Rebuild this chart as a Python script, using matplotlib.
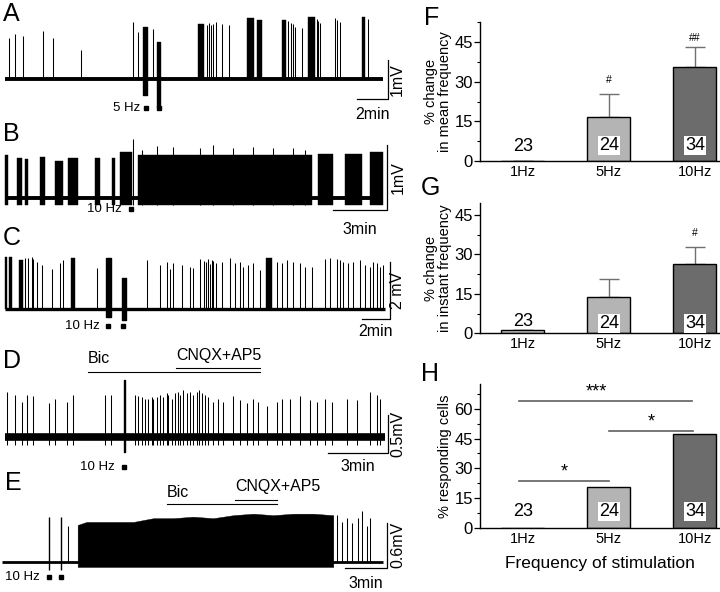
import matplotlib
matplotlib.use('Agg')
import matplotlib.pyplot as plt
import numpy as np

plt.rcParams['font.family'] = ['Liberation Sans', 'DejaVu Sans']

# ---------------- bar chart data (F, G, H) ----------------
freqs = ['1Hz', '5Hz', '10Hz']
n_cells = ['23', '24', '34']
mean_change = [0.0, 16.8, 35.7]
mean_err = [0.0, 8.5, 7.6]
inst_change = [1.2, 13.7, 26.3]
inst_err = [0.0, 6.8, 6.6]
responding = [0.0, 20.7, 47.4]
bar_colors = ['#c8c8c8', '#b4b4b4', '#6c6c6c']

# ---------------- traces: time in min, amplitude in mV ----------------
# A : 5 Hz
A_spk_t = [0.26, 0.65, 1.14, 2.43, 3.08, 4.90, 8.26, 8.56, 9.55,
           13.0, 13.15, 13.3, 13.45, 13.61, 13.98, 14.47,
           18.28, 18.43, 18.6, 18.7, 19.14, 20.11, 20.2, 20.32,
           21.29, 21.44, 21.61, 23.44]
A_spk_a = [1.06, 1.16, 1.11, 1.24, 1.06, 0.75, 1.47, 1.21, 1.29,
           1.40, 1.45, 1.38, 1.42, 1.48, 1.43, 1.40,
           1.50, 1.45, 1.42, 1.35, 1.31, 1.55, 1.50, 1.45,
           1.56, 1.52, 1.48, 1.55]
A_bursts = [(12.43, 12.85, 1.43), (15.59, 16.07, 1.56), (16.24, 16.56, 1.52),
            (17.85, 18.13, 1.52), (19.57, 20.0, 1.59), (23.01, 23.23, 1.59)]
A_stims = [(8.92, 9.14, 1.34, -0.40), (9.81, 10.0, 0.96, -0.71)]
A_stim_t = [9.08, 9.94]

# B : 10 Hz
B_spk_t = [7.11, 7.59, 8.43, 9.35, 10.83, 11.57, 12.69, 13.8, 14.91, 16.02, 16.67]
B_spk_a = [0.91, 0.74, 0.80, 0.79, 0.77, 0.82, 0.77, 0.79, 0.77, 0.78, 0.74]
B_bursts = [(0.0, 0.17, 0.66), (0.67, 0.94, 0.62), (1.11, 1.28, 0.60), (1.94, 2.22, 0.64),
            (2.78, 3.22, 0.58), (3.5, 4.06, 0.62), (5.0, 5.28, 0.62), (5.94, 6.11, 0.62),
            (6.39, 7.06, 0.72), (7.39, 17.06, 0.67), (17.39, 18.22, 0.68),
            (18.89, 19.83, 0.68), (20.28, 21.0, 0.72)]
B_stim_t = [6.98]

# C : 10 Hz
C_spk_t = [1.43, 1.66, 1.91, 2.02, 2.26, 2.62, 3.33, 3.93, 4.12, 6.55,
           10.12, 11.07, 11.55, 11.79, 12.02, 12.62, 13.21, 13.45,
           13.93, 14.21, 14.36, 14.52, 14.64, 14.76, 14.88, 15.07,
           15.48, 16.07, 16.43, 16.79, 17.02, 17.38, 17.74, 18.21,
           19.4, 19.76, 20.12, 20.6, 21.07, 21.43, 21.9,
           22.86, 23.21, 23.69, 23.93, 24.17, 24.52, 24.88, 25.36, 25.71,
           26.07, 26.31, 26.55, 26.79, 27.02]
C_spk_a = [1.79, 1.79, 1.85, 1.75, 1.67, 1.55, 1.40, 1.61, 1.73, 1.44,
           1.73, 1.55, 1.67, 1.40, 1.61, 1.55, 1.50, 1.44,
           1.75, 1.70, 1.65, 1.75, 1.60, 1.72, 1.68, 1.62,
           1.67, 1.79, 1.61, 1.67, 1.50, 1.55, 1.61, 1.38,
           1.67, 1.61, 1.73, 1.67, 1.61, 1.50, 1.50,
           1.75, 1.79, 1.75, 1.73, 1.67, 1.61, 1.67, 1.73, 1.55,
           1.50, 1.67, 1.61, 1.50, 1.55]
C_bursts = [(0.0, 0.14, 1.82), (0.32, 0.48, 1.82), (1.02, 1.26, 1.73),
            (4.69, 5.0, 1.79), (18.64, 19.05, 1.81)]
C_stims = [(7.21, 7.55, 1.79, -0.26), (8.33, 8.62, 1.09, -0.38)]
C_stim_t = [7.36, 8.43]

# D : 10 Hz + Bic / CNQX+AP5
D_spk_t = [0.08, 0.5, 0.83, 1.12, 1.42, 2.22, 2.5, 3.08, 3.42, 5.0, 5.3, 6.5, 6.63,
           6.83, 7.0, 7.17, 7.33, 7.42, 7.58, 7.75, 7.92, 8.08, 8.17, 8.33, 8.5,
           8.67, 8.75, 8.92, 9.08, 9.25, 9.42, 9.58, 9.72, 9.83, 10.0, 10.17, 10.42,
           10.67, 10.92, 11.42, 11.75, 12.08, 12.42, 12.67, 13.08, 13.58, 13.83,
           14.25, 14.75, 15.25, 15.58, 16.0, 16.33, 17.08, 17.58, 18.25, 18.58, 18.75]
D_spk_a = [0.60, 0.56, 0.47, 0.56, 0.54, 0.45, 0.51, 0.47, 0.56, 0.56, 0.56, 0.56, 0.54,
           0.53, 0.51, 0.51, 0.53, 0.51, 0.53, 0.56, 0.53, 0.58, 0.56, 0.51, 0.58,
           0.60, 0.56, 0.62, 0.58, 0.60, 0.56, 0.60, 0.62, 0.58, 0.56, 0.53, 0.47,
           0.51, 0.47, 0.54, 0.49, 0.45, 0.51, 0.47, 0.41, 0.47, 0.51,
           0.51, 0.54, 0.49, 0.47, 0.51, 0.47, 0.51, 0.49, 0.60, 0.56, 0.51]
D_stims = [(5.95, 5.99, 0.76, -0.19)]
D_stim_t = [5.97]
D_bic = (4.15, 12.75)
D_cnqx = (8.55, 12.75)

# E : 10 Hz + Bic / CNQX+AP5
E_env_t = [5.19, 5.83, 6.79, 7.98, 9.17, 10.6, 12.02, 13.45, 14.88, 16.31,
           17.74, 19.17, 20.6, 22.02, 23.45]
E_env_a = [0.49, 0.53, 0.53, 0.53, 0.53, 0.58, 0.58, 0.60, 0.58, 0.62,
           0.64, 0.62, 0.64, 0.64, 0.62]
E_spk_t = [4.52, 23.69, 24.05, 24.4, 24.76, 25.24, 25.48, 25.83, 26.07]
E_spk_a = [0.47, 0.62, 0.53, 0.58, 0.51, 0.58, 0.67, 0.47, 0.58]
E_stims = [(3.13, 3.15, 0.60, -0.11), (3.99, 4.01, 0.60, -0.11)]
E_stim_t = [3.14, 4.0]
E_bic = (11.57, 19.43)
E_cnqx = (16.43, 19.43)

W, H = 720, 592
fig = plt.figure(figsize=(7.2, 5.92), dpi=100)


def trace_ax(top, bot, base, px_mv, px_min):
    ax = fig.add_axes([0, 1 - bot / H, 400 / W, (bot - top) / H])
    ax.set_xlim(-5 / px_min, 395 / px_min)
    ax.set_ylim(-(bot - base) / px_mv, (base - top) / px_mv)
    ax.axis('off')
    return ax


def draw_trace(ax, t_end, base_lw, spk_t, spk_a, bursts=(), stims=(), floor=0.0, t_start=0.0):
    ax.plot([t_start, t_end], [0, 0], color='k', lw=base_lw, solid_capstyle='butt')
    ax.vlines(spk_t, floor, spk_a, color='k', lw=0.75)
    for t0, t1, a in bursts:
        ax.fill_between([t0, t1], floor, a, color='k', lw=0.3)
    for t0, t1, a, b in stims:
        ax.fill_between([t0, t1], b, a, facecolor='k', edgecolor='k', lw=1.0)


def scalebar(ax, t_right, y_bot, dt, dv, tlab, vlab, tlab_y, vlab_t):
    ax.plot([t_right - dt, t_right, t_right], [y_bot, y_bot, y_bot + dv],
            color='k', lw=0.9, clip_on=False)
    ax.text(t_right - dt / 2, tlab_y, tlab, ha='center', va='top', fontsize=11.5)
    ax.text(vlab_t, y_bot + dv / 2, vlab, ha='center', va='center', rotation=90, fontsize=11.5)


def stim_mark(ax, ts, y, label, t_lab):
    ax.plot(ts, [y] * len(ts), 's', ms=3.3, color='k', clip_on=False)
    ax.text(t_lab, y, label, ha='right', va='center', fontsize=9.5)


def drug_bars(ax, bic, cnqx, y_bic, y_cnqx, yt_bic, yt_cnqx):
    ax.plot(bic, [y_bic, y_bic], color='k', lw=0.8)
    ax.plot(cnqx, [y_cnqx, y_cnqx], color='k', lw=0.8)
    ax.text(bic[0], yt_bic, 'Bic', ha='left', va='center', fontsize=11.5)
    ax.text(cnqx[0], yt_cnqx, 'CNQX+AP5', ha='left', va='center', fontsize=11.5)


# A
axA = trace_ax(0, 122, 79.3, 39, 15.5)
draw_trace(axA, 24.39, 2.8, A_spk_t, A_spk_a, A_bursts, A_stims)
scalebar(axA, 24.71, -0.5, 2, 1, '2min', '1mV', -0.70, 25.3)
stim_mark(axA, A_stim_t, -0.73, '5 Hz', 8.71)

# B
axB = trace_ax(110, 235, 198.3, 65, 18)
draw_trace(axB, 21.0, 2.8, B_spk_t, B_spk_a, B_bursts, floor=-0.1)
scalebar(axB, 21.22, -0.18, 3, 1, '3min', '1mV', -0.36, 21.83)
stim_mark(axB, B_stim_t, -0.165, '10 Hz', 6.5)

# C
axC = trace_ax(220, 345, 309.3, 28.5, 14)
draw_trace(axC, 27.14, 2.4, C_spk_t, C_spk_a, C_bursts, C_stims)
scalebar(axC, 27.5, -0.34, 2, 2, '2min', '2 mV', -0.50, 28.07)
stim_mark(axC, C_stim_t, -0.59, '10 Hz', 6.79)

# D
axD = trace_ax(335, 480, 437.3, 76, 20)
draw_trace(axD, 19.0, 5.5, D_spk_t, D_spk_a, (), D_stims, floor=-0.1)
scalebar(axD, 19.15, -0.21, 3, 0.5, '3min', '0.5mV', -0.28, 19.65)
stim_mark(axD, D_stim_t, -0.39, '10 Hz', 5.5)
drug_bars(axD, D_bic, D_cnqx, 0.86, 0.91, 1.04, 1.07)

# E
axE = trace_ax(470, 592, 561.7, 75, 14)
draw_trace(axE, 27.0, 2.0, E_spk_t, E_spk_a, (), E_stims, t_start=-0.21)
axE.fill_between(E_env_t, -0.07, E_env_a, color='k', lw=0.3)
scalebar(axE, 27.29, -0.08, 3, 0.6, '3min', '0.6mV', -0.19, 28.07)
stim_mark(axE, E_stim_t, -0.2, '10 Hz', 2.5)
drug_bars(axE, E_bic, E_cnqx, 0.77, 0.82, 0.92, 1.0)

for lab, x, y in [('A', 3, 2), ('B', 3, 122), ('C', 3, 226), ('D', 3, 349), ('E', 5, 471),
                  ('F', 424, 6), ('G', 421, 176), ('H', 421, 362)]:
    fig.text(x / W, 1 - y / H, lab, fontsize=18, ha='left', va='top')


# ---------------- bar charts ----------------
def bar_ax(top, bot):
    return fig.add_axes([480 / W, 1 - bot / H, 239 / W, (bot - top) / H])


def style_bar(ax, ymax, ylabel):
    x = np.arange(len(freqs))
    ax.set_xlim(-0.5, 2.28)
    ax.set_ylim(0, ymax)
    ax.set_xticks(x)
    ax.set_xticklabels(freqs, fontsize=10.5)
    ax.set_yticks([0, 15, 30, 45, 60] if ymax > 60 else [0, 15, 30, 45])
    ax.set_yticks(np.arange(0, ymax, 7.5), minor=True)
    ax.tick_params(axis='y', labelsize=12, length=4, width=0.9, pad=1)
    ax.tick_params(axis='y', which='minor', length=2, width=0.8)
    ax.tick_params(axis='x', length=0, pad=3)
    for s in ['top', 'right']:
        ax.spines[s].set_visible(False)
    for s in ['left', 'bottom']:
        ax.spines[s].set_linewidth(1.0)
    ax.set_ylabel(ylabel, fontsize=10.5, labelpad=2, linespacing=1.0)


def bars(ax, vals, err, lab_y):
    x = np.arange(len(freqs))
    if err is not None:
        ax.errorbar(x, vals, yerr=[np.zeros(3), err], fmt='none', ecolor='#707070',
                    elinewidth=1.0, capsize=7, capthick=1.0, zorder=1)
    ax.bar(x, vals, width=0.5, color=bar_colors, edgecolor='k', lw=1.0, zorder=2)
    for xi, n, y in zip(x, n_cells, lab_y):
        ax.text(xi, y, n, ha='center', va='center', fontsize=13, zorder=3,
                bbox=dict(boxstyle='square,pad=0.05', fc='white', ec='none') if xi > 0 else None)


axF = bar_ax(21.7, 161)
bars(axF, mean_change, mean_err, [5.4, 6.0, 6.0])
style_bar(axF, 52.8, '% change\nin mean frequency')
axF.text(1, 30.7, '#', ha='center', va='center', fontsize=7.5)
axF.text(2, 46.7, '##', ha='center', va='center', fontsize=7.5)

axG = bar_ax(203.3, 333.3)
bars(axG, inst_change, inst_err, [4.4, 3.8, 3.8])
style_bar(axG, 49.4, '% change\nin instant frequency')
axG.text(2, 38.1, '#', ha='center', va='center', fontsize=7.5)

axH = bar_ax(384, 527.7)
bars(axH, responding, None, [8.1, 8.1, 8.1])
style_bar(axH, 72.6, '% responding cells')
axH.set_xlabel('Frequency of stimulation', fontsize=12.5, labelpad=7)
for x0, x1, y, star, xs in [(-0.05, 1.97, 63.8, '***', 0.85), (1.0, 1.98, 48.9, '*', 1.49),
                            (-0.05, 1.0, 23.6, '*', 0.48)]:
    axH.plot([x0, x1], [y, y], color='#606060', lw=1.2)
    axH.text(xs, y + 0.3, star, ha='center', va='bottom', fontsize=13)

fig.savefig('out.png', dpi=100)
